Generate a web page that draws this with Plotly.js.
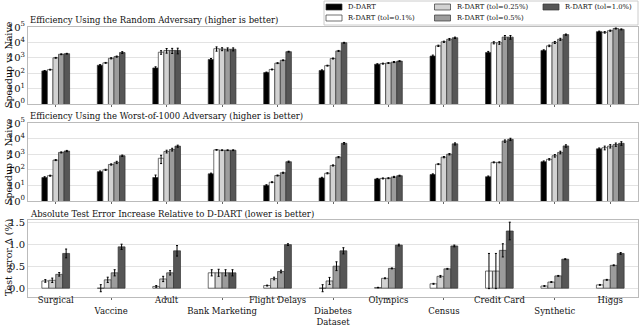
<!DOCTYPE html>
<html>
<head>
<meta charset="utf-8">
<script src="https://cdn.plot.ly/plotly-3.0.1.min.js"></script>
<style>
  html, body { margin: 0; padding: 0; background: #fff; }
  #chart { width: 640px; height: 327px; }
</style>
</head>
<body>
<div id="chart"></div>
<script>
// datasets, in plot order
var categories = ['Surgical', 'Vaccine', 'Adult', 'Bank Marketing', 'Flight Delays',
    'Diabetes Dataset', 'Olympics', 'Census', 'Credit Card', 'Synthetic', 'Higgs'];
// staggered tick labels (odd ones pushed to a second row)
var tickLabels = ['Surgical', '<br>Vaccine', 'Adult', '<br>Bank Marketing', 'Flight Delays',
    '<br>Diabetes<br>Dataset', 'Olympics', '<br>Census', 'Credit Card', '<br>Synthetic', 'Higgs'];

var seriesNames = ['D-DART', 'R-DART (tol=0.1%)', 'R-DART (tol=0.25%)', 'R-DART (tol=0.5%)', 'R-DART (tol=1.0%)'];

// speedup vs naive, random adversary
var randomDDart  = [140, 330, 220, 780, 110, 150, 380, 1300, 2200, 3000, 50000];
var random01     = [170, 470, 2300, 3900, 175, 310, 420, 6000, 9500, 6000, 45000];
var random025    = [1000, 930, 3000, 3700, 450, 900, 460, 11000, 9500, 10000, 58000];
var random05     = [1700, 1200, 3000, 3600, 690, 2800, 530, 16000, 22000, 16000, 80000];
var random10     = [1850, 2200, 3000, 3600, 2500, 9500, 610, 20000, 22000, 32000, 70000];
var randomDDartErr = [10, 30, 40, 120, 8, 15, 30, 200, 400, 300, 4000];
var random01Err    = [10, 30, 600, 1200, 10, 20, 30, 600, 1500, 700, 5000];
var random025Err   = [60, 80, 1000, 800, 30, 60, 30, 1000, 2000, 1500, 5000];
var random05Err    = [100, 100, 1100, 800, 40, 200, 40, 2000, 6000, 2500, 6000];
var random10Err    = [100, 300, 1200, 800, 150, 600, 40, 2000, 6000, 3000, 5000];

// speedup vs naive, worst-of-1000 adversary
var worstDDart  = [32, 76, 32, 55, 10, 30, 26, 50, 36, 330, 2200];
var worst01     = [42, 100, 550, 1900, 16, 60, 28, 230, 300, 470, 2600];
var worst025    = [420, 220, 1500, 1800, 43, 190, 29, 650, 300, 800, 3300];
var worst05     = [1300, 300, 2000, 1800, 65, 650, 35, 1000, 7000, 1300, 4200];
var worst10     = [1600, 800, 3300, 1800, 330, 5000, 42, 4600, 9000, 3400, 5000];
var worstDDartErr = [4, 8, 14, 6, 1, 3, 2, 5, 4, 40, 300];
var worst01Err    = [3, 8, 300, 100, 1, 5, 2, 15, 20, 50, 700];
var worst025Err   = [30, 20, 300, 100, 3, 15, 2, 60, 20, 150, 800];
var worst05Err    = [100, 50, 400, 100, 5, 60, 3, 100, 1200, 250, 1000];
var worst10Err    = [150, 80, 500, 100, 30, 600, 3, 700, 1500, 600, 1300];

// absolute test error increase (%) relative to D-DART
var errDelta01    = [0.165, 0.0, 0.04, 0.35, 0.06, 0.0, 0.015, 0.10, 0.39, 0.05, 0.075];
var errDelta025   = [0.18, 0.19, 0.21, 0.35, 0.22, 0.165, 0.225, 0.27, 0.39, 0.14, 0.19];
var errDelta05    = [0.315, 0.35, 0.35, 0.35, 0.38, 0.50, 0.45, 0.44, 0.86, 0.28, 0.52];
var errDelta10    = [0.79, 0.94, 0.85, 0.35, 0.99, 0.85, 0.98, 0.96, 1.30, 0.66, 0.79];
var errDelta01Err  = [0.03, 0.08, 0.02, 0.07, 0.01, 0.08, 0.005, 0.01, 0.40, 0.01, 0.01];
var errDelta025Err = [0.05, 0.06, 0.06, 0.08, 0.03, 0.08, 0.01, 0.02, 0.40, 0.01, 0.01];
var errDelta05Err  = [0.04, 0.07, 0.05, 0.07, 0.03, 0.10, 0.01, 0.01, 0.15, 0.01, 0.01];
var errDelta10Err  = [0.10, 0.06, 0.12, 0.07, 0.02, 0.07, 0.02, 0.02, 0.20, 0.01, 0.02];

var colors = ['#000000', '#ffffff', '#d2d2d2', '#9c9c9c', '#565656'];

var FONT = 'DejaVu Serif, serif';

// plot area in pixels (margins)
var ML = 28, MR = 2, MT = 27, MB = 30, W = 640, H = 327;
var PW = W - ML - MR, PH = H - MT - MB;
function px2x(px) { return (px - ML) / PW; }
function px2y(py) { return (H - MB - py) / PH; }

function makeBar(i, vals, errs, xa, ya) {
    return {
        type: 'bar',
        x: categories,
        y: vals,
        name: seriesNames[i],
        showlegend: false,
        xaxis: xa,
        yaxis: ya,
        marker: {color: colors[i], line: {color: '#333333', width: 0.7}},
        error_y: {type: 'data', array: errs, color: '#000000', thickness: 1, width: 1}
    };
}

var randomSets = [randomDDart, random01, random025, random05, random10];
var randomErrs = [randomDDartErr, random01Err, random025Err, random05Err, random10Err];
var worstSets = [worstDDart, worst01, worst025, worst05, worst10];
var worstErrs = [worstDDartErr, worst01Err, worst025Err, worst05Err, worst10Err];
var deltaSets = [null, errDelta01, errDelta025, errDelta05, errDelta10];
var deltaErrs = [null, errDelta01Err, errDelta025Err, errDelta05Err, errDelta10Err];

var data = [];
for (var i = 0; i < 5; i++) data.push(makeBar(i, randomSets[i], randomErrs[i], 'x', 'y'));
for (var i = 0; i < 5; i++) data.push(makeBar(i, worstSets[i], worstErrs[i], 'x2', 'y2'));
for (var i = 1; i < 5; i++) data.push(makeBar(i, deltaSets[i], deltaErrs[i], 'x3', 'y3'));

var logTicks = [1, 10, 100, 1000, 10000, 100000];
var logText = ['10<sup>0</sup>', '10<sup>1</sup>', '10<sup>2</sup>', '10<sup>3</sup>', '10<sup>4</sup>', '10<sup>5</sup>'];

function xaxisBase(domainAnchor, showLabels) {
    return {
        anchor: domainAnchor,
        domain: [0, 1],
        type: 'category',
        range: [-0.5, 10.5],
        tickvals: categories,
        ticktext: showLabels ? tickLabels : categories,
        showticklabels: showLabels,
        tickangle: 0,
        ticks: 'outside', ticklen: 2, tickcolor: '#666',
        ticklabelstandoff: -7,
        showgrid: false,
        showline: true, linecolor: '#bbbbbb', mirror: true,
        tickfont: {family: FONT, size: 8.5, color: '#111'},
        automargin: false
    };
}
function logAxis(anchor, dom) {
    return {
        anchor: anchor, domain: dom,
        type: 'log', range: [0, 5],
        tickvals: logTicks, ticktext: logText,
        showgrid: true, gridcolor: '#e3e3e3',
        showline: true, linecolor: '#bbbbbb', mirror: true,
        zeroline: false,
        tickfont: {family: FONT, size: 10, color: '#111'},
        ticks: '', automargin: false
    };
}

// legend drawn as shapes + annotations (3 columns, filled column-wise like the original)
var legendCols = [0, 0, 1, 1, 2];
var legendRows = [0, 1, 0, 1, 0];
var shapes = [{
    type: 'rect', xref: 'paper', yref: 'paper',
    x0: px2x(324), x1: px2x(638), y0: px2y(1), y1: px2y(25),
    line: {color: '#cccccc', width: 1}, fillcolor: '#ffffff', layer: 'above'
}];
var annotations = [];
for (var i = 0; i < 5; i++) {
    var sx = 326 + legendCols[i] * 108.5;
    var cy = 7 + legendRows[i] * 11;
    shapes.push({
        type: 'rect', xref: 'paper', yref: 'paper',
        x0: px2x(sx), x1: px2x(sx + 16), y0: px2y(cy - 3), y1: px2y(cy + 3),
        line: {color: '#333333', width: 0.7}, fillcolor: colors[i], layer: 'above'
    });
    annotations.push({
        text: seriesNames[i], xref: 'paper', yref: 'paper',
        x: px2x(sx + 20), y: px2y(cy), xanchor: 'left', yanchor: 'middle',
        showarrow: false, font: {size: 6.8, color: '#111'}
    });
}

// panel titles and y-axis titles
var panelTitles = ['Efficiency Using the Random Adversary (higher is better)',
    'Efficiency Using the Worst-of-1000 Adversary (higher is better)',
    'Absolute Test Error Increase Relative to D-DART (lower is better)'];
var titleY = [20, 116, 214];
for (var i = 0; i < 3; i++) {
    annotations.push({text: panelTitles[i], xref: 'paper', yref: 'paper',
        x: 0, y: px2y(titleY[i]), xanchor: 'left', yanchor: 'middle', showarrow: false,
        font: {size: 8.5, color: '#111'}});
}
var yTitles = ['Speedup vs Naive', 'Speedup vs Naive', 'Test error Δ (%)'];
var yTitleCenter = [65, 162, 258];
for (var i = 0; i < 3; i++) {
    annotations.push({text: yTitles[i], xref: 'paper', yref: 'paper',
        x: px2x(8), y: px2y(yTitleCenter[i]), xanchor: 'center', yanchor: 'middle',
        textangle: -90, showarrow: false, font: {size: 9.5, color: '#111'}});
}

var layout = {
    width: W, height: H,
    margin: {l: ML, r: MR, t: MT, b: MB},
    paper_bgcolor: '#ffffff', plot_bgcolor: '#ffffff',
    barmode: 'group', bargap: 0.5, bargroupgap: 0,
    font: {family: FONT, size: 10, color: '#111'},
    showlegend: false,
    xaxis: xaxisBase('y', false),
    xaxis2: xaxisBase('y2', false),
    xaxis3: xaxisBase('y3', true),
    yaxis: logAxis('x', [px2y(104), 1]),
    yaxis2: logAxis('x2', [px2y(201), px2y(123)]),
    yaxis3: {
        anchor: 'x3', domain: [0, px2y(220)],
        range: [-0.2, 1.55],
        tickvals: [0, 0.5, 1.0, 1.5], ticktext: ['0.0', '0.5', '1.0', '1.5'],
        showgrid: true, gridcolor: '#e3e3e3',
        showline: true, linecolor: '#bbbbbb', mirror: true,
        zeroline: false, automargin: false,
        tickfont: {family: FONT, size: 10, color: '#111'}
    },
    shapes: shapes,
    annotations: annotations
};

Plotly.newPlot('chart', data, layout, {staticPlot: true});
</script>
</body>
</html>
